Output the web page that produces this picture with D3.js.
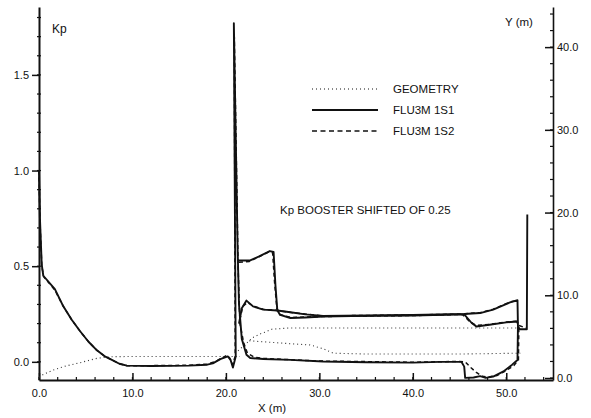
<!DOCTYPE html>
<html>
<head>
<meta charset="utf-8">
<script src="https://cdn.jsdelivr.net/npm/d3@7"></script>
<style>
  body { margin: 0; background: #fff; }
  svg { display: block; font-family: "Liberation Sans", Arial, sans-serif; }
</style>
</head>
<body>
<svg id="chart"></svg>
<script>
// tick values
var xTicks = [0, 10, 20, 30, 40, 50];
var kpTicks = [0, 0.5, 1.0, 1.5];
var yTicks = [0, 10, 20, 30, 40];

// Kp, FLU3M 1S1 (solid) - [X (m), Kp]
var s1Core = [[0,1.0],[0.1,0.75],[0.29,0.51],[0.46,0.45],[1.7,0.38],[2.6,0.29],[3.5,0.22],[4.4,0.16],
  [5.3,0.105],[6.2,0.06],[7.0,0.03],[7.8,0.01],[8.6,-0.01],[9.4,-0.02],[12,-0.022],[16,-0.02],[18,-0.015],
  [18.6,-0.008],[19.4,0.014],[20.2,0.028],[20.5,0.01],[20.75,-0.03],[21.05,0.028],[20.85,1.77],[21.25,0.6],
  [21.4,0.3],[21.7,0.12],[22.2,0.037],[22.6,0.02],[24,0.015],[26.9,0.01],[30.4,0.002],[35,-0.002],[40,-0.004],
  [42.9,0.0],[45.2,0.0],[45.5,-0.025],[45.6,-0.084],[46.5,-0.082],[47.2,-0.075],[47.8,-0.084],[48.6,-0.077],
  [49.7,-0.05],[50.6,-0.016],[51.2,0.01],[51.25,0.185],[51.45,0.17],[52.2,0.17],[52.25,0.77]];
var s1BoosterA = [[21.3,0.53],[22.6,0.53],[23.5,0.55],[24.7,0.579],[25.1,0.575],[25.3,0.4],[25.5,0.27],
  [25.8,0.245],[26.9,0.229],[28.5,0.232],[30.4,0.237],[35,0.24],[40,0.242],[45.5,0.248],[46.3,0.203],
  [46.8,0.185],[48.2,0.194],[50.0,0.206],[51.1,0.211],[51.25,0.2]];
var s1BoosterB = [[21.4,0.2],[21.7,0.28],[22.2,0.32],[22.9,0.29],[24.0,0.273],[25.5,0.268],[26.9,0.259],
  [28.5,0.248],[30.4,0.24],[35,0.242],[40,0.245],[45.5,0.25],[47.2,0.255],[48.6,0.273],[49.6,0.294],
  [50.4,0.311],[51.2,0.322],[51.25,0.185]];

// Kp, FLU3M 1S2 (dashed)
var s2Core = [[0,1.0],[0.1,0.74],[0.3,0.5],[0.5,0.445],[1.7,0.375],[2.6,0.29],[3.5,0.22],[4.4,0.16],
  [5.3,0.105],[6.2,0.06],[7.0,0.03],[7.8,0.01],[8.6,-0.01],[9.4,-0.02],[12,-0.02],[16,-0.018],[18,-0.012],
  [18.8,0.0],[19.6,0.02],[20.1,0.035],[20.4,0.02],[20.7,-0.015],[21.0,0.03],[20.9,1.7],[21.3,0.5],[21.5,0.2],
  [21.9,0.1],[22.3,0.045],[23,0.025],[24,0.018],[27,0.011],[30,0.004],[40,-0.002],[45,0.002],[45.6,0.0],
  [46.2,-0.03],[46.8,-0.055],[47.4,-0.075],[48,-0.08],[49,-0.072],[50,-0.045],[50.8,-0.02],[51.3,0.01],
  [51.35,0.19],[52.2,0.175]];
var s2BoosterA = [[21.4,0.52],[22.5,0.525],[23.5,0.548],[24.6,0.575],[25.0,0.57],[25.2,0.42],[25.45,0.28],
  [25.8,0.247],[27,0.232],[30.4,0.237],[35,0.24],[40,0.242],[45.3,0.248],[46.1,0.21],[46.8,0.19],
  [48.2,0.196],[50,0.208],[51.2,0.213]];
var s2BoosterB = [[21.5,0.22],[21.8,0.29],[22.3,0.31],[23,0.29],[24,0.275],[25.5,0.268],[27,0.258],
  [30.4,0.24],[40,0.245],[45.3,0.25],[47.2,0.257],[48.6,0.275],[49.6,0.296],[50.4,0.313],[51.2,0.32]];

// geometry contours - [X (m), Y (m)]
var geoBody = [[0,0.1],[0.5,0.45],[1.5,0.95],[2.6,1.37],[3.5,1.62],[4.4,1.85],[5.3,2.12],[6.2,2.38],
  [7.0,2.5],[7.9,2.58],[10,2.6],[15,2.6],[20,2.6],[21.5,2.6]];
var geoBoosterUpper = [[21.3,3.3],[22.3,4.3],[22.9,4.9],[23.6,5.3],[24.3,5.6],[24.9,5.9],[26.8,6.05],
  [35,6.05],[45,6.05],[51.4,6.05]];
var geoBoosterLower = [[22.5,4.5],[25,4.3],[27.5,4.1],[29,4.0],[30.5,3.5],[31.5,3.0],[35,2.9],[45,2.9],[51.5,3.0]];

var width = 591, height = 418;
var plot = { left: 39, right: 553, top: 7, bottom: 380 };

var svg = d3.select("#chart").attr("width", width).attr("height", height);
svg.append("rect").attr("width", width).attr("height", height).attr("fill", "#fff");

var xScale = d3.scaleLinear().domain([0, 55]).range([plot.left, plot.right]);
var kpScale = d3.scaleLinear().domain([-0.095, 1.855]).range([plot.bottom, plot.top]);
var yScale = d3.scaleLinear().domain([-0.24, 44.85]).range([plot.bottom, plot.top]);

var ink = "#111";

// left axis (Kp)
svg.append("g")
  .attr("transform", `translate(${plot.left},0)`)
  .call(d3.axisLeft(kpScale).tickValues(kpTicks).tickFormat(d3.format(".1f")).tickSize(7).tickSizeOuter(0).tickPadding(3))
  .call(g => g.select(".domain").attr("stroke-width", 2))
  .call(g => g.selectAll(".tick line").attr("stroke-width", 1.5));
svg.append("g").selectAll("line")
  .data(kpScale.ticks(20))
  .enter().append("line")
  .attr("x1", plot.left - 2).attr("x2", plot.left + 2)
  .attr("y1", d => kpScale(d)).attr("y2", d => kpScale(d))
  .attr("stroke", ink).attr("stroke-width", 1.2);

// bottom axis (X)
svg.append("g")
  .attr("transform", `translate(0,${plot.bottom})`)
  .call(d3.axisBottom(xScale).tickValues(xTicks).tickFormat(d3.format(".1f")).tickSize(-7).tickSizeOuter(0).tickPadding(9))
  .call(g => g.select(".domain").attr("stroke-width", 2))
  .call(g => g.selectAll(".tick line").attr("stroke-width", 1.5));
svg.append("g").selectAll("line")
  .data(xScale.ticks(27))
  .enter().append("line")
  .attr("x1", d => xScale(d)).attr("x2", d => xScale(d))
  .attr("y1", plot.bottom).attr("y2", plot.bottom - 3)
  .attr("stroke", ink).attr("stroke-width", 1.2);

// right axis (Y)
svg.append("g")
  .attr("transform", `translate(${plot.right},0)`)
  .call(d3.axisRight(yScale).tickValues(yTicks).tickFormat(d3.format(".1f")).tickSize(-8).tickSizeOuter(0).tickPadding(4))
  .call(g => g.select(".domain").attr("stroke-width", 1.6))
  .call(g => g.selectAll(".tick line").attr("stroke-width", 1.5));
svg.append("g").selectAll("line")
  .data(yScale.ticks(22))
  .enter().append("line")
  .attr("x1", plot.right).attr("x2", plot.right - 3)
  .attr("y1", d => yScale(d)).attr("y2", d => yScale(d))
  .attr("stroke", ink).attr("stroke-width", 1.2);

svg.selectAll(".tick text").attr("font-size", 11).attr("fill", ink)
  .attr("font-family", "'Liberation Sans', Arial, sans-serif");
svg.selectAll(".domain, .tick line").attr("stroke", ink);

// curves
var kpLine = d3.line().x(d => xScale(d[0])).y(d => kpScale(d[1]));
var geoLine = d3.line().x(d => xScale(d[0])).y(d => yScale(d[1]));

var geoG = svg.append("g").attr("fill", "none").attr("stroke", "#333")
  .attr("stroke-width", 1.1).attr("stroke-dasharray", "1,3");
[geoBody, geoBoosterUpper, geoBoosterLower].forEach(function(d) {
  geoG.append("path").attr("d", geoLine(d));
});

var s2G = svg.append("g").attr("fill", "none").attr("stroke", ink)
  .attr("stroke-width", 1.5).attr("stroke-dasharray", "4,3");
[s2Core, s2BoosterA, s2BoosterB].forEach(function(d) {
  s2G.append("path").attr("d", kpLine(d));
});

var s1G = svg.append("g").attr("fill", "none").attr("stroke", ink)
  .attr("stroke-width", 1.9).attr("stroke-linejoin", "round");
[s1Core, s1BoosterA, s1BoosterB].forEach(function(d) {
  s1G.append("path").attr("d", kpLine(d));
});

// legend
var legend = [
  { label: "GEOMETRY", dash: "1,3", w: 1.1, y: 89 },
  { label: "FLU3M 1S1", dash: null, w: 1.9, y: 110 },
  { label: "FLU3M 1S2", dash: "5,3.5", w: 1.5, y: 131 }
];
var lg = svg.append("g");
legend.forEach(function(d) {
  lg.append("line").attr("x1", 312).attr("x2", 378).attr("y1", d.y).attr("y2", d.y)
    .attr("stroke", ink).attr("stroke-width", d.w).attr("stroke-dasharray", d.dash);
  lg.append("text").attr("x", 393).attr("y", d.y + 4).attr("font-size", 11.5)
    .attr("fill", ink).text(d.label);
});

// titles and note
svg.append("text").attr("x", 52).attr("y", 33).attr("font-size", 12).attr("fill", ink).text("Kp");
svg.append("text").attr("x", 505).attr("y", 26).attr("font-size", 11.5).attr("fill", ink).text("Y (m)");
svg.append("text").attr("x", 258).attr("y", 412).attr("font-size", 11.5).attr("fill", ink).text("X (m)");
svg.append("text").attr("x", 280).attr("y", 214).attr("font-size", 11.5).attr("fill", ink)
  .text("Kp BOOSTER SHIFTED OF 0.25");
</script>
</body>
</html>
